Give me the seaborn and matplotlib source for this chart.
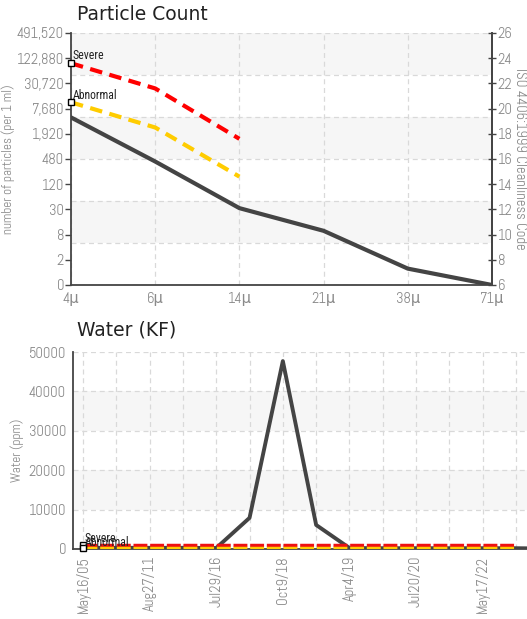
import matplotlib
matplotlib.use("Agg")
import matplotlib.pyplot as plt
import seaborn as sns
import pandas as pd
import numpy as np

# ---------------- data ----------------
sizes = ["4\u03bc", "6\u03bc", "14\u03bc", "21\u03bc", "38\u03bc", "71\u03bc"]
iso_code = [19.3, 15.8, 12.1, 10.3, 7.3, 6.0]
severe_sizes = ["4\u03bc", "6\u03bc", "14\u03bc"]
severe_code = [23.6, 21.6, 17.6]
abnormal_code = [20.5, 18.5, 14.6]
left_tick_codes = [26, 24, 22, 20, 18, 16, 14, 12, 10, 8, 6]
left_tick_labels = ["491,520", "122,880", "30,720", "7,680", "1,920", "480",
                    "120", "30", "8", "2", "0"]

water_idx = list(range(15))
water_ppm = [300, 300, 300, 300, 250, 7900, 47700, 6100, 250, 200, 200, 200, 200, 200, 100]
water_severe = [1000] * 14
water_abnormal = [200] * 14
date_tick_pos = [0, 2, 4, 6, 8, 10, 12]
date_tick_labels = ["May16/05", "Aug27/11", "Jul29/16", "Oct9/18", "Apr4/19",
                    "Jul20/20", "May17/22"]

# ---------------- style ----------------
sns.set_style("white")
TICKF = ["Abel", "DejaVu Sans"]
LBLF = ["Roboto Condensed", "DejaVu Sans"]
plt.rcParams["font.family"] = ["DejaVu Sans"]
GRAY = "#8a8a8a"
DARK = "#444444"
GRID = "#d9d9d9"
BAND = "#f6f6f6"

fig = plt.figure(figsize=(5.27, 6.19), dpi=100)

# ---------------- Particle Count ----------------
ax = fig.add_axes([71/527, 1-285/619, (492-71)/527, (285-33)/619])
df = pd.DataFrame({"size": sizes, "code": iso_code})
x_map = {s: i for i, s in enumerate(sizes)}
df["x"] = df["size"].map(x_map)
dsev = pd.DataFrame({"x": [x_map[s] for s in severe_sizes], "sev": severe_code, "abn": abnormal_code})

ax.set_xlim(0, len(sizes) - 1)
ax.set_ylim(6, 26)
edges = np.linspace(26, 6, 7)
for k in range(6):
    if k % 2 == 0:
        ax.axhspan(edges[k+1], edges[k], color=BAND, zorder=0, lw=0)
for e in edges:
    ax.axhline(e, color=GRID, ls=(0, (4, 3)), lw=0.9, zorder=1)
for i in range(len(sizes)):
    ax.axvline(i, color=GRID, ls=(0, (4, 3)), lw=0.9, zorder=1)

sns.lineplot(data=df, x="x", y="code", ax=ax, color=DARK, lw=3, zorder=4)
sns.lineplot(data=dsev, x="x", y="sev", ax=ax, color="#ff0000", lw=3, zorder=5,
             linestyle=(0, (3, 1.8)))
sns.lineplot(data=dsev, x="x", y="abn", ax=ax, color="#ffcc00", lw=3, zorder=5,
             linestyle=(0, (3, 1.8)))
ax.plot([0], [severe_code[0]], marker="s", ms=5, mfc="white", mec="black", mew=1, zorder=7, clip_on=False)
ax.plot([0], [abnormal_code[0]], marker="s", ms=5, mfc="white", mec="black", mew=1, zorder=7, clip_on=False)
ax.text(0.02, severe_code[0] + 0.3, "Severe", family=LBLF, fontsize=8.5, color="#222222", zorder=8)
ax.text(0.02, abnormal_code[0] + 0.3, "Abnormal", family=LBLF, fontsize=8.5, color="#222222", zorder=8)

ax.set_xticks(range(len(sizes)))
ax.set_xticklabels(sizes, family=TICKF, fontsize=10.5, color=GRAY)
ax.set_yticks(left_tick_codes)
ax.set_yticklabels(left_tick_labels, family=TICKF, fontsize=10.5, color=GRAY)
ax.tick_params(axis="both", length=4, width=1, color=DARK, pad=1, direction="out")
ax.set_xlabel("")
ax.set_ylabel("number of particles (per 1 ml)", family=TICKF, fontsize=9.5, color=GRAY)
ax.yaxis.set_label_coords((15 - 71) / 421, 0.5)
for s in ["left", "bottom", "right"]:
    ax.spines[s].set_color(DARK)
    ax.spines[s].set_linewidth(1.3)
ax.spines["top"].set_visible(False)

ax2 = ax.twinx()
ax2.set_ylim(6, 26)
ax2.set_yticks(left_tick_codes)
ax2.set_yticklabels([str(c) for c in left_tick_codes], family=TICKF, fontsize=10.5, color=GRAY)
ax2.tick_params(axis="y", length=6, width=1, color=DARK, pad=1, direction="inout")
ax2.set_ylabel("ISO 4406:1999 Cleanliness Code", family=TICKF, fontsize=10.5, color=GRAY,
               rotation=270, va="center")
ax2.yaxis.set_label_coords((520 - 71) / 421, 0.5)
for s in ["top", "left", "bottom"]:
    ax2.spines[s].set_visible(False)
ax2.spines["right"].set_color(DARK)
ax2.spines["right"].set_linewidth(1.3)

fig.text(77/527, 1-14/619, "Particle Count", fontsize=13.5, color="#222222", va="center", ha="left")

# ---------------- Water (KF) ----------------
bx = fig.add_axes([73/527, 1-549/619, (527-73)/527, (549-352)/619])
dw = pd.DataFrame({"idx": water_idx, "ppm": water_ppm})
dws = pd.DataFrame({"idx": list(range(14)), "sev": water_severe, "abn": water_abnormal})
bx.set_xlim(-0.3, 13.33)
bx.set_ylim(0, 50000)
bx.axhspan(30000, 40000, color=BAND, zorder=0, lw=0)
bx.axhspan(10000, 20000, color=BAND, zorder=0, lw=0)
for v in range(0, 50001, 10000):
    bx.axhline(v, color=GRID, ls=(0, (4, 3)), lw=0.9, zorder=1)
for i in range(14):
    bx.axvline(i, color=GRID, ls=(0, (4, 3)), lw=0.9, zorder=1)

sns.lineplot(data=dw, x="idx", y="ppm", ax=bx, color=DARK, lw=2.8, zorder=4)
sns.lineplot(data=dws, x="idx", y="sev", ax=bx, color="#ee1111", lw=2.5, zorder=5,
             linestyle=(0, (4, 0.8)))
sns.lineplot(data=dws, x="idx", y="abn", ax=bx, color="#ffcc00", lw=2.5, zorder=5,
             linestyle=(0, (4, 0.8)))
bx.plot([0], [water_severe[0]], marker="s", ms=4.5, mfc="white", mec="black", mew=1, zorder=7, clip_on=False)
bx.plot([0], [water_abnormal[0]], marker="s", ms=4.5, mfc="white", mec="black", mew=1, zorder=7, clip_on=False)
bx.text(0.05, 1700, "Severe", family=LBLF, fontsize=8.5, color="#222222", zorder=8)
bx.text(0.05, 700, "Abnormal", family=LBLF, fontsize=8.5, color="#222222", zorder=8)

bx.set_xticks(date_tick_pos)
bx.set_xticklabels(date_tick_labels, family=TICKF, fontsize=10.5, color=GRAY, rotation=90)
bx.set_yticks(range(0, 50001, 10000))
bx.set_yticklabels([str(v) for v in range(0, 50001, 10000)], family=TICKF, fontsize=10.5, color=GRAY)
bx.tick_params(axis="both", length=4, width=1, color=DARK, pad=1, direction="out")
bx.set_xlabel("")
bx.set_ylabel("Water (ppm)", family=TICKF, fontsize=9.5, color=GRAY)
bx.yaxis.set_label_coords((24 - 73) / 454, 0.5)
for s in ["left", "bottom"]:
    bx.spines[s].set_color(DARK)
    bx.spines[s].set_linewidth(1.3)
bx.spines["top"].set_visible(False)
bx.spines["right"].set_visible(False)

fig.text(77/527, 1-330/619, "Water (KF)", fontsize=13.5, color="#222222", va="center", ha="left")

fig.savefig("out.png", dpi=100)
